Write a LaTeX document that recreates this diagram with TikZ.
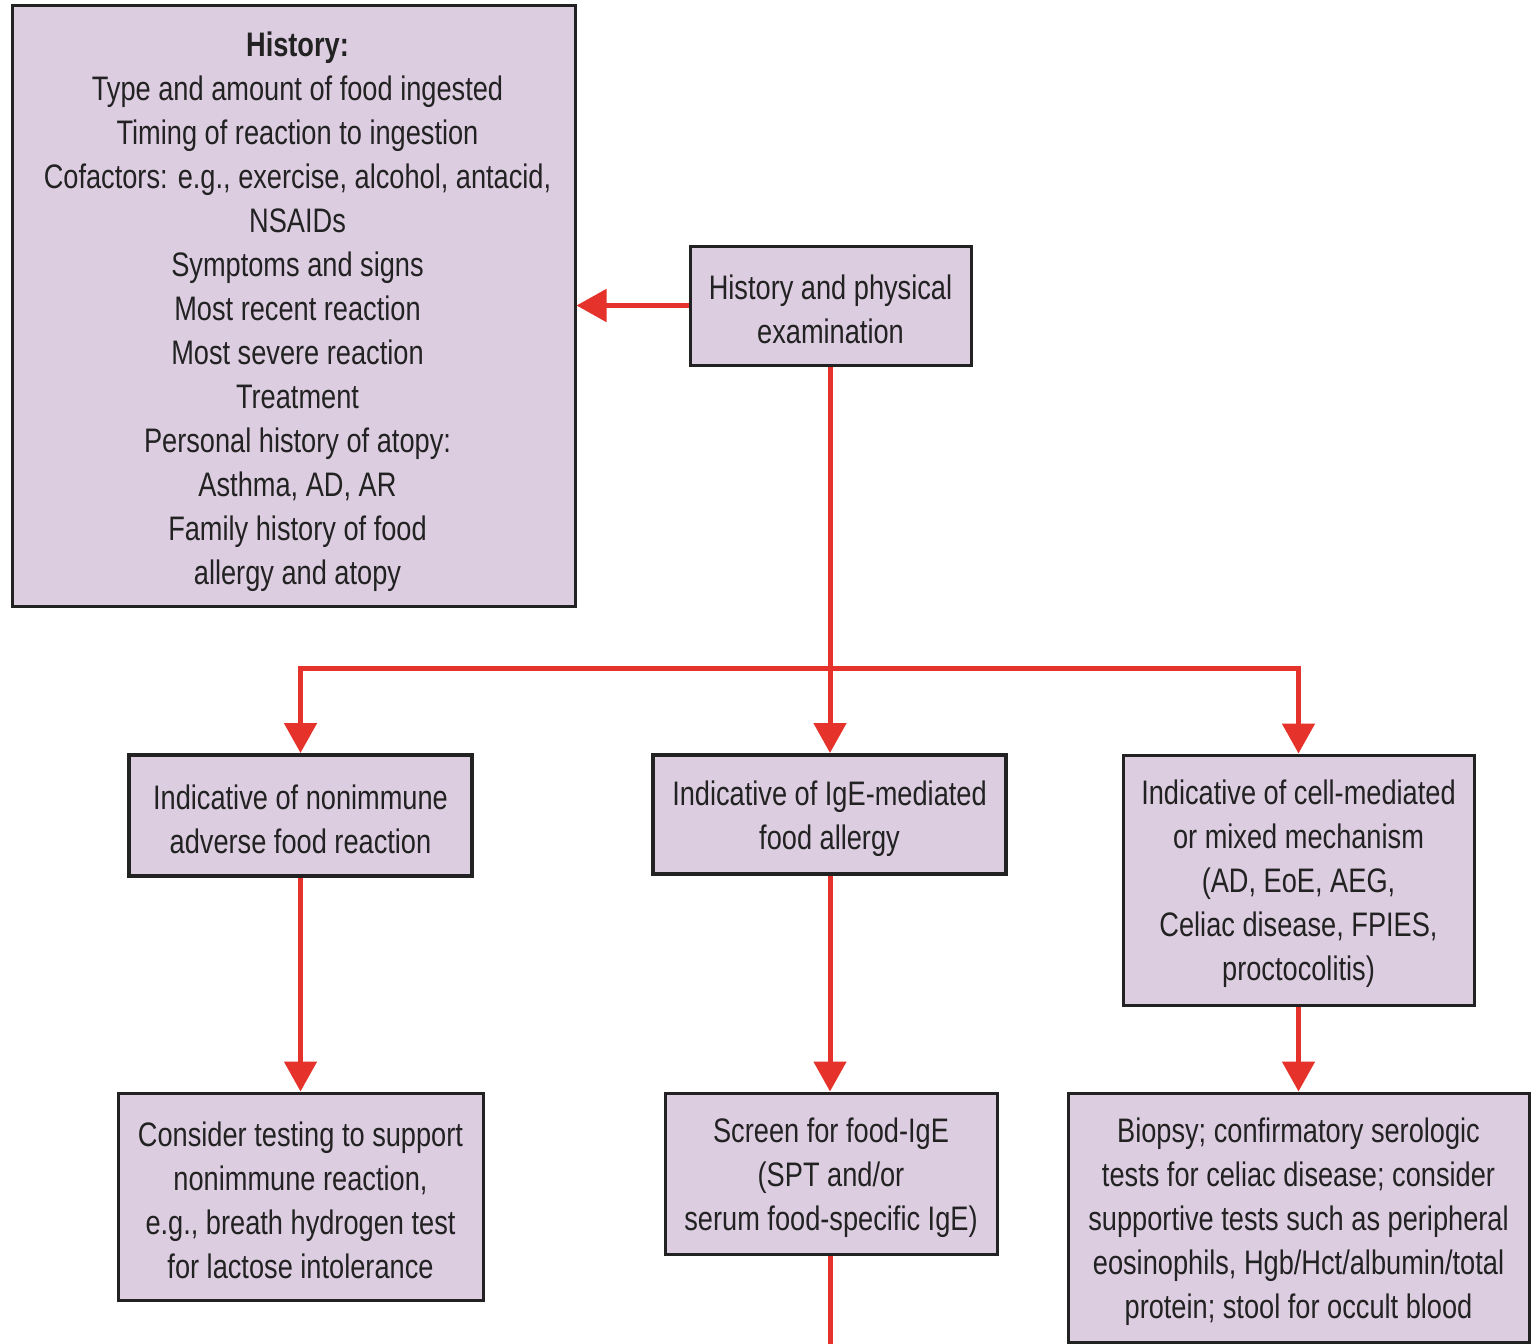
\documentclass[tikz,border=0pt]{standalone}
\usepackage{fontspec}
\setmainfont{Liberation Sans}[FakeStretch=0.80]
\usetikzlibrary{arrows.meta}
\definecolor{boxfill}{HTML}{DDCDE1}
\definecolor{arrred}{HTML}{E5322B}
\definecolor{txt}{HTML}{222222}
\begin{document}
\begin{tikzpicture}[x=1pt,y=-1pt,
  box/.style={draw=txt, line width=3pt, fill=boxfill, inner sep=0pt},
  tx/.style={align=center, text=txt, inner sep=0pt, yshift=-4pt,
    font=\fontsize{34}{44}\selectfont},
  conn/.style={draw=arrred, line width=5pt, -{Triangle[length=30pt,width=32pt]}},
  plain/.style={draw=arrred, line width=5pt}]
\useasboundingbox[fill=white] (0,0) rectangle (1537,1344);
\node[box, minimum width=563pt, minimum height=601pt,
 label={[tx,yshift=-2pt,xshift=4pt]center:{\textbf{History:}\\Type and amount of food ingested\\Timing of reaction to ingestion\\
  Cofactors: e.g., exercise, alcohol, antacid,\\NSAIDs\\Symptoms and signs\\
  Most recent reaction\\Most severe reaction\\Treatment\\Personal history of atopy:\\
  Asthma, AD, AR\\Family history of food\\allergy and atopy}}] (hist) at (293.5,305.5) {};
\node[box, minimum width=281pt, minimum height=119pt,
 label={[tx]center:{History and physical\\examination}}] (hpe) at (830.5,305.5) {};
\node[box, line width=4pt, minimum width=343pt, minimum height=121pt,
 label={[tx]center:{Indicative of nonimmune\\adverse food reaction}}] (n1) at (300.5,815.5) {};
\node[box, line width=4pt, minimum width=353pt, minimum height=119pt,
 label={[tx]center:{Indicative of IgE-mediated\\food allergy}}] (n2) at (829.5,814.5) {};
\node[box, minimum width=351pt, minimum height=250pt,
 label={[tx]center:{Indicative of cell-mediated\\or mixed mechanism\\(AD, EoE, AEG,\\Celiac disease, FPIES,\\proctocolitis)}}] (n3) at (1298.5,880) {};
\node[box, minimum width=365pt, minimum height=207pt,
 label={[tx]center:{Consider testing to support\\nonimmune reaction,\\e.g., breath hydrogen test\\for lactose intolerance}}] (b1) at (300.5,1196.5) {};
\node[box, minimum width=332pt, minimum height=161pt,
 label={[tx]center:{Screen for food-IgE\\(SPT and/or\\serum food-specific IgE)}}] (b2) at (831,1173.5) {};
\node[box, minimum width=461pt, minimum height=249pt,
 label={[tx]center:{Biopsy; confirmatory serologic\\tests for celiac disease; consider\\supportive tests such as peripheral\\eosinophils, Hgb/Hct/albumin/total\\protein; stool for occult blood}}] (b3) at (1298.5,1217.5) {};
\coordinate (br) at (830,668);
\coordinate (bend) at (830,1344);
\draw[conn] (hpe.west) -- (hist.east);
\draw[conn] (hpe.south -| br) -- (n2.north -| br);
\draw[conn] (br) -| (n1.north);
\draw[conn] (br) -| (n3.north);
\draw[conn] (n1.south) -- (b1.north -| n1.south);
\draw[conn] (n2.south -| br) -- (b2.north -| br);
\draw[conn] (n3.south) -- (b3.north -| n3.south);
\draw[plain] (b2.south -| bend) -- (bend);
\end{tikzpicture}
\end{document}
